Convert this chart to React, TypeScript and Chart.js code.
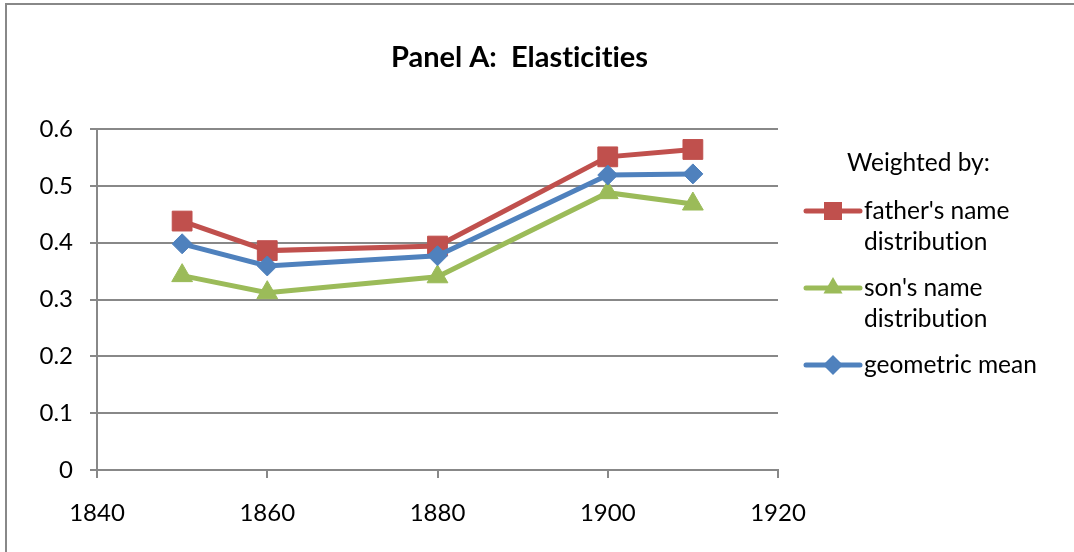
import React, { useEffect, useRef } from "react";
import { Chart, registerables } from "chart.js";

Chart.register(...registerables);

const years = [1850, 1860, 1880, 1900, 1910];
const fatherValues = [0.438, 0.386, 0.394, 0.551, 0.564];
const sonValues = [0.342, 0.312, 0.34, 0.488, 0.468];
const geoValues = [0.398, 0.359, 0.377, 0.519, 0.521];
const xTickValues = [1840, 1860, 1880, 1900, 1920];
const yTickValues = [0, 0.1, 0.2, 0.3, 0.4, 0.5, 0.6];
const seriesLabels = [
  ["father's name", "distribution"],
  ["son's name", "distribution"],
  ["geometric mean"],
];
const titleText = "Panel A:  Elasticities";
const legendTitle = "Weighted by:";

const RED = "#C0504D";
const GREEN = "#9BBB59";
const BLUE = "#4F81BD";
const GRID = "#888888";
const FONT = "Lato, 'Open Sans', sans-serif";

function drawMarker(ctx: CanvasRenderingContext2D, style: string, x: number, y: number, color: string) {
  ctx.save();
  ctx.fillStyle = color;
  ctx.beginPath();
  if (style === "rect") {
    const s = 9;
    ctx.rect(x - s, y - s, 2 * s, 2 * s);
  } else if (style === "triangle") {
    const r = 11;
    ctx.moveTo(x, y - r);
    ctx.lineTo(x + r * 0.866, y + r / 2);
    ctx.lineTo(x - r * 0.866, y + r / 2);
    ctx.closePath();
  } else {
    const r = 10;
    ctx.moveTo(x, y - r);
    ctx.lineTo(x + r, y);
    ctx.lineTo(x, y + r);
    ctx.lineTo(x - r, y);
    ctx.closePath();
  }
  ctx.fill();
  ctx.restore();
}

const decorPlugin = {
  id: "decor",
  afterDraw(chart: any) {
    const ctx: any = chart.ctx;
    ctx.save();
    try {
      ctx.textRendering = "optimizeSpeed";
    } catch (e) {}
    ctx.fillStyle = "#000";
    ctx.font = `bold 29px ${FONT}`;
    ctx.textAlign = "center";
    ctx.textBaseline = "middle";
    ctx.fillText(titleText, 519.5, 58);

    ctx.font = `24.5px ${FONT}`;
    ctx.textAlign = "left";
    ctx.fillText(legendTitle, 847, 163);

    const entryY = [211, 288, 365];
    chart.data.datasets.forEach((ds: any, i: number) => {
      const y = entryY[i];
      ctx.strokeStyle = ds.borderColor;
      ctx.lineWidth = 5;
      ctx.lineCap = "round";
      ctx.beginPath();
      ctx.moveTo(806, y);
      ctx.lineTo(860, y);
      ctx.stroke();
      drawMarker(ctx, ds.pointStyle, 833, y, ds.borderColor);
      ctx.fillStyle = "#000";
      ctx.font = `24.5px ${FONT}`;
      ctx.textAlign = "left";
      ctx.textBaseline = "middle";
      seriesLabels[i].forEach((line, j) => {
        ctx.fillText(line, 864, y + j * 31.5);
      });
    });
    ctx.restore();
  },
};

function toPoints(vals: number[]) {
  return years.map((x, i) => ({ x, y: vals[i] }));
}

export default function App() {
  const ref = useRef<HTMLCanvasElement | null>(null);
  useEffect(() => {
    if (!ref.current) return;
    const chart = new Chart(ref.current, {
      type: "line",
      data: {
        datasets: [
          {
            label: seriesLabels[0].join(" "),
            data: toPoints(fatherValues),
            borderColor: RED,
            backgroundColor: RED,
            borderWidth: 5,
            pointStyle: "rect",
            pointRadius: 14,
            pointBorderWidth: 1,
            order: 3,
          },
          {
            label: seriesLabels[1].join(" "),
            data: toPoints(sonValues),
            borderColor: GREEN,
            backgroundColor: GREEN,
            borderWidth: 5,
            pointStyle: "triangle",
            pointRadius: 12,
            pointBorderWidth: 1,
            order: 2,
          },
          {
            label: seriesLabels[2].join(" "),
            data: toPoints(geoValues),
            borderColor: BLUE,
            backgroundColor: BLUE,
            borderWidth: 5,
            pointStyle: "rectRot",
            pointRadius: 10,
            pointBorderWidth: 1,
            order: 1,
          },
        ],
      },
      options: {
        responsive: false,
        animation: false,
        events: [],
        layout: { padding: { top: 129, right: 296, bottom: 0, left: 0 } },
        plugins: {
          legend: { display: false },
          title: { display: false },
          tooltip: { enabled: false },
        },
        elements: { line: { tension: 0 } },
        scales: {
          x: {
            type: "linear",
            min: 1840,
            max: 1920,
            afterBuildTicks: (scale: any) => {
              scale.ticks = xTickValues.map((v) => ({ value: v }));
            },
            afterFit: (scale: any) => {
              scale.height = 82;
            },
            grid: {
              drawOnChartArea: false,
              drawTicks: true,
              tickLength: 8,
              color: GRID,
              lineWidth: 2,
            },
            border: { display: true, color: GRID, width: 2 },
            ticks: {
              padding: 21,
              color: "#000",
              font: { family: FONT, size: 24 },
              maxRotation: 0,
              callback: (v: any) => String(v),
            },
          },
          y: {
            type: "linear",
            min: 0,
            max: 0.6,
            afterBuildTicks: (scale: any) => {
              scale.ticks = yTickValues.map((v) => ({ value: v }));
            },
            afterFit: (scale: any) => {
              scale.width = 97;
            },
            grid: {
              drawTicks: true,
              tickLength: 7,
              color: GRID,
              lineWidth: 2,
            },
            border: { display: true, color: GRID, width: 2 },
            ticks: {
              padding: 17,
              color: "#000",
              font: { family: FONT, size: 24 },
              callback: (v: any) => (Number(v) === 0 ? "0" : Number(v).toFixed(1)),
            },
          },
        },
      },
      plugins: [decorPlugin],
    });
    return () => chart.destroy();
  }, []);

  return (
    <div
      style={{
        position: "fixed",
        left: 0,
        top: 0,
        width: 1074,
        height: 552,
        background: "#fff",
        overflow: "hidden",
      }}
    >
      <div
        style={{
          position: "absolute",
          left: 5,
          top: 3,
          width: 1200,
          height: 700,
          borderLeft: `2px solid ${GRID}`,
          borderTop: `2px solid ${GRID}`,
        }}
      />
      <canvas
        ref={ref}
        width={1074}
        height={552}
        style={{ position: "absolute", left: 0, top: 0, width: 1074, height: 552, display: "block" }}
      />
    </div>
  );
}
